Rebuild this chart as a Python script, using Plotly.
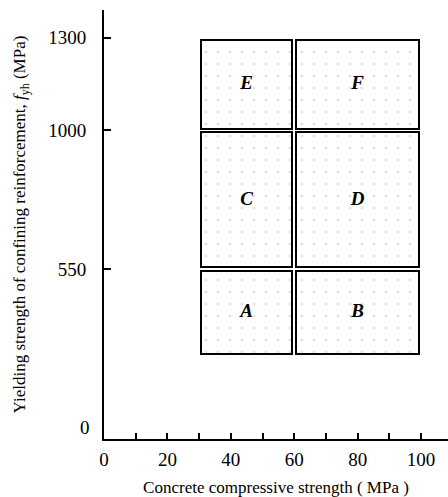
import plotly.graph_objects as go

# Data: zone boundaries (concrete strength, MPa) and (yield strength, MPa)
fc_lo = [30, 60]
fc_hi = [60, 100]
fyh_lo = [270, 550, 1000]
fyh_hi = [550, 1000, 1300]
zone_labels = [["A", "B"], ["C", "D"], ["E", "F"]]

x_ticks = [0, 20, 40, 60, 80, 100]
x_ticktext = ["0", "20", "40", "60", "80", "100"]
y_ticks = [550, 1000, 1300]
y_ticktext = ["550", "1000", "1300"]

FONT = "Liberation Serif"
gx = 0.6   # half gap between adjacent zones (x units)
gy = 6     # half gap between adjacent zones (y units)

fig = go.Figure()
bx, bw, bb, bh = [], [], [], []
tx, ty, tt = [], [], []
for j in range(len(fyh_lo)):
    for i in range(len(fc_lo)):
        bx.append((fc_lo[i] + fc_hi[i]) / 2)
        bw.append(fc_hi[i] - fc_lo[i] - 2 * gx)
        bb.append(fyh_lo[j] + gy)
        bh.append(fyh_hi[j] - fyh_lo[j] - 2 * gy)
        tx.append((fc_lo[i] + fc_hi[i]) / 2)
        ty.append((fyh_lo[j] + fyh_hi[j]) / 2)
        tt.append("<b><i>" + zone_labels[j][i] + "</i></b>")

fig.add_trace(go.Bar(
    x=bx, y=bh, base=bb, width=bw,
    marker=dict(color="white",
                line=dict(color="black", width=2),
                pattern=dict(shape=".", fgcolor="#c8c8c8", bgcolor="white",
                             size=12, solidity=0.05)),
    showlegend=False, hoverinfo="skip"))

fig.add_trace(go.Scatter(
    x=tx, y=ty, mode="text", text=tt,
    textfont=dict(family=FONT, size=19, color="black"),
    showlegend=False, hoverinfo="skip"))

fig.add_annotation(x=0, y=0, xref="x", yref="y", text="0", showarrow=False,
                   xanchor="right", yanchor="middle", xshift=-12, yshift=12,
                   font=dict(family=FONT, size=19, color="black"))

fig.update_layout(
    width=448, height=497,
    margin=dict(l=104, r=0, t=10, b=58),
    plot_bgcolor="white", paper_bgcolor="white",
    font=dict(family=FONT, color="black"),
    bargap=0,
    xaxis=dict(range=[0, 108.5], tickvals=x_ticks, ticktext=x_ticktext,
               ticks="inside", ticklen=6, tickwidth=1.5, tickcolor="black",
               minor=dict(ticks="inside", dtick=10, tick0=0, ticklen=6,
                          tickwidth=1.5, tickcolor="black", showgrid=False),
               showline=True, linecolor="black", linewidth=2,
               showgrid=False, zeroline=False,
               tickfont=dict(family=FONT, size=19),
               ticklabelstandoff=2,
               title=dict(text="Concrete compressive strength ( MPa )",
                          font=dict(family=FONT, size=17), standoff=14)),
    yaxis=dict(range=[0, 1390], tickvals=y_ticks, ticktext=y_ticktext,
               ticks="inside", ticklen=7, tickwidth=1.5, tickcolor="black",
               showline=True, linecolor="black", linewidth=2,
               showgrid=False, zeroline=False,
               tickfont=dict(family=FONT, size=19),
               ticklabelstandoff=12,
               title=dict(text="Yielding strength of confining reinforcement, <i>f</i><sub>yh</sub> (MPa)",
                          font=dict(family=FONT, size=17), standoff=18)),
)

fig.write_html("out.html")
